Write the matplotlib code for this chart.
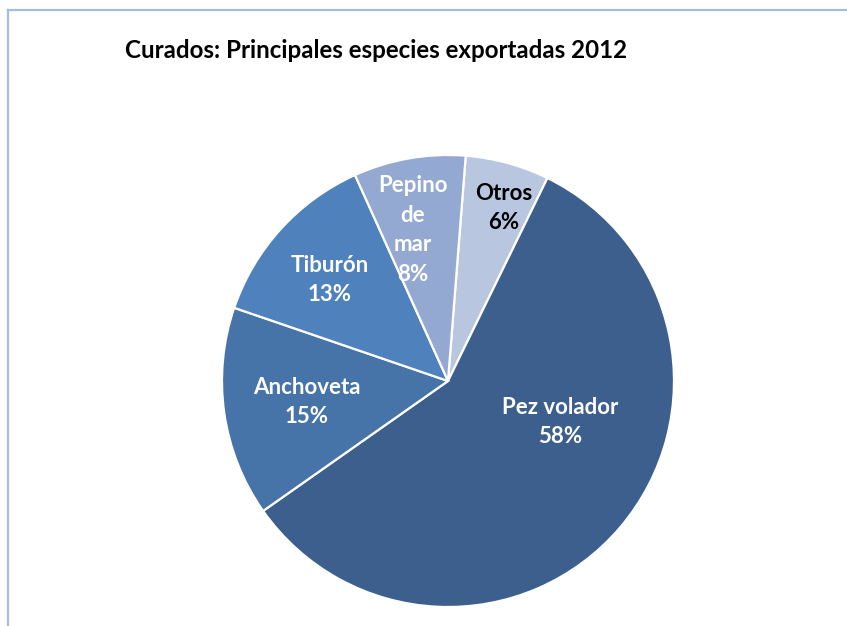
import matplotlib.pyplot as plt
from matplotlib.lines import Line2D

TITLE = "Curados: Principales especies exportadas 2012"

# clockwise from the top
species = ["Otros", "Pez volador", "Anchoveta", "Tiburón", "Pepino\nde\nmar"]
shares = [6, 58, 15, 13, 8]
colors = ["#B9C6E0", "#3C5F8D", "#4673A8", "#4F81BD", "#93A9D2"]
text_colors = ["black", "white", "white", "white", "white"]

# label centres, pixels from the top-left corner
label_xy = [(504, 208), (560, 422), (307, 402), (330, 280), (413, 230)]

W, H = 847, 626
fig = plt.figure(figsize=(W / 100, H / 100), dpi=100)
ax = fig.add_axes([0, 0, 1, 1])

ax.pie(
    shares,
    colors=colors,
    startangle=85.5,
    counterclock=False,
    center=(448, H - 381),
    radius=226,
    wedgeprops=dict(edgecolor="white", linewidth=1.6),
    frame=True,
)
ax.set_xlim(0, W)
ax.set_ylim(0, H)
ax.set_aspect("equal")
ax.axis("off")

for name, val, (x, y), tc in zip(species, shares, label_xy, text_colors):
    ax.text(x, H - y, f"{name}\n{val}%", ha="center", va="center",
            fontsize=16, fontweight="bold", color=tc, family="Lato",
            linespacing=1.5)

ax.text(125, H - 50, TITLE, ha="left", va="center", fontsize=17.4,
        fontweight="bold", family="Lato", color="black")

# chart area border (top and left edges visible)
border = "#A3BCDF"
fig.add_artist(Line2D([7.5 / W, 1], [1 - 10 / H, 1 - 10 / H], color=border,
                      linewidth=1.6, transform=fig.transFigure))
fig.add_artist(Line2D([7.5 / W, 7.5 / W], [0, 1 - 10 / H], color=border,
                      linewidth=1.6, transform=fig.transFigure))

fig.savefig("out.png", dpi=100)
